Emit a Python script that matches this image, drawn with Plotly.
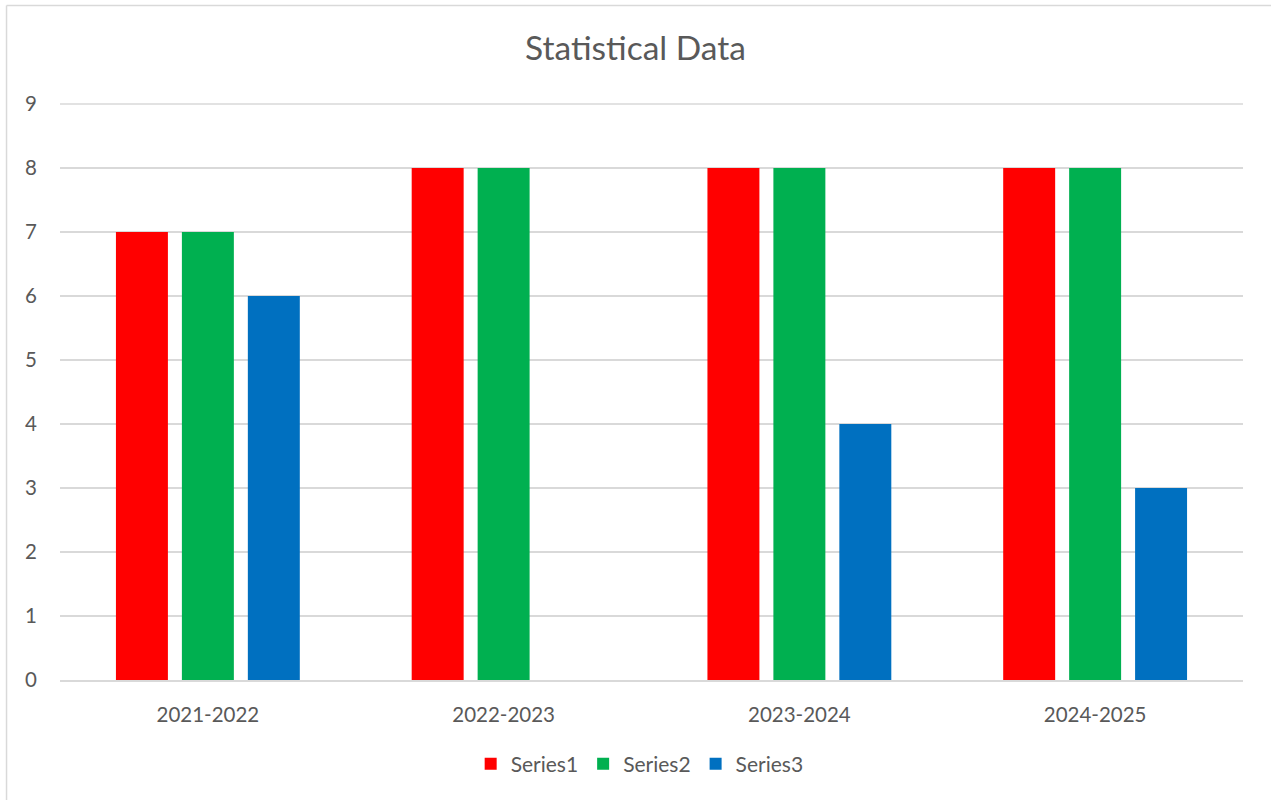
import plotly.graph_objects as go

categories = ["2021-2022", "2022-2023", "2023-2024", "2024-2025"]
series1 = [7, 8, 8, 8]
series2 = [7, 8, 8, 8]
series3 = [6, None, 4, 3]
series_names = ["Series1", "Series2", "Series3"]
colors = ["#FF0000", "#00B050", "#0070C0"]
y_max = 9

FONT = "Lato, Carlito, Calibri, sans-serif"
TXT = "#595959"
GRID = "#D9D9D9"

fig = go.Figure()
for name, vals, col in zip(series_names, [series1, series2, series3], colors):
    fig.add_trace(go.Bar(x=categories, y=vals, name=name, marker_color=col,
                         marker_line_width=0))

fig.update_layout(
    width=1271, height=800,
    margin=dict(l=60, r=28, t=104, b=120),
    paper_bgcolor="white", plot_bgcolor="white",
    barmode="group", bargap=0.331, bargroupgap=0.212,
    font=dict(family=FONT, color=TXT, size=20.5),
    title=dict(text="Statistical Data", x=0.5, xanchor="center", y=1 - 48 / 800,
               yanchor="middle", font=dict(family=FONT, size=33.5, color=TXT)),
    legend=dict(orientation="h", x=0.49, xanchor="center", y=-0.146, yanchor="middle",
                font=dict(family=FONT, size=21, color=TXT), itemwidth=30,
                traceorder="normal"),
    xaxis=dict(showgrid=False, showline=True, linecolor=GRID, linewidth=1.5,
               ticks="", ticklabelstandoff=16, tickfont=dict(size=20.5, color=TXT)),
    yaxis=dict(range=[0, y_max], dtick=1, showgrid=True, gridcolor=GRID, gridwidth=1.5,
               zeroline=False, showline=False, ticks="", ticklabelstandoff=22,
               tickfont=dict(size=20.5, color=TXT)),
    shapes=[
        dict(type="line", xref="paper", yref="paper", x0=0, x1=1, y0=1, y1=1,
             layer="below", line=dict(color=GRID, width=1.5)),
        dict(type="line", xref="paper", yref="paper", x0=-0.0452, x1=1.03,
             y0=1.171, y1=1.171, line=dict(color=GRID, width=1.5)),
        dict(type="line", xref="paper", yref="paper", x0=-0.0452, x1=-0.0452,
             y0=1.171, y1=-0.22, line=dict(color=GRID, width=1.5)),
    ],
)

fig.write_html("out.html", config={"displayModeBar": False},
               post_script="document.body.style.margin='0';")
